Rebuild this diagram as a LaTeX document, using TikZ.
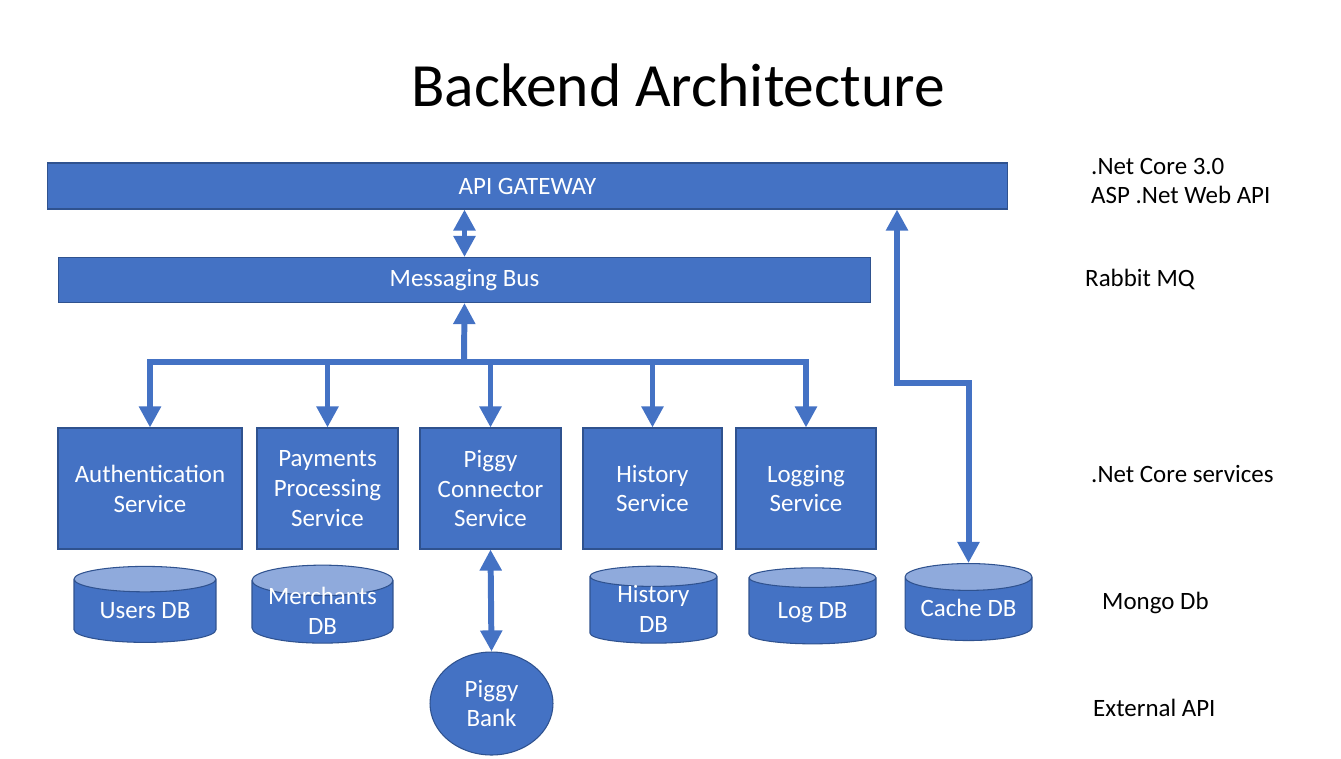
\documentclass[tikz,border=0pt]{standalone}
\usepackage{fontspec}
\setmainfont{Carlito}
\usetikzlibrary{arrows.meta,shapes.geometric}
\definecolor{BoxBlue}{HTML}{4472C4}
\definecolor{EdgeBlue}{HTML}{2F528F}
\definecolor{TopBlue}{HTML}{8FAADC}
\newcommand{\dbtext}[1]{\smash{\raisebox{-4.6pt}{\begin{tabular}{@{}c@{}}#1\end{tabular}}}}

\begin{document}
\begin{tikzpicture}[
    x=0.02cm, y=-0.02cm,
    font=\fontsize{14.2}{17}\selectfont,
    link/.style={draw=BoxBlue, line width=3.4pt},
    tip/.style={-{Triangle[length=12pt,width=12pt]}},
    twotip/.style={{Triangle[length=12pt,width=12pt]}-{Triangle[length=12pt,width=12pt]}},
    bar/.style={draw=EdgeBlue, fill=BoxBlue, line width=0.6pt, text=white,
        inner sep=0pt, align=center},
    service/.style={bar, minimum height=2.42cm},
    dbcyl/.style={cylinder, shape border rotate=90, aspect=0.28,
        draw=EdgeBlue, line width=0.6pt, cylinder uses custom fill,
        cylinder body fill=BoxBlue, cylinder end fill=TopBlue,
        text=white, inner sep=0pt},
    side/.style={anchor=west, align=left}
]
\useasboundingbox (0,0) rectangle (1341,758);

% Heading
\node[font=\fontsize{35}{42}\selectfont] (title) at (678,85) {Backend Architecture};

% Gateway and bus
\node[bar, minimum width=19.22cm, minimum height=0.92cm] (gw) at (527.5,186) {API GATEWAY};
\node[bar, minimum width=16.26cm, minimum height=0.9cm] (bus) at (464.5,280) {Messaging Bus};

% Services
\node[service, minimum width=3.68cm] (auth) at (150,488.5) {Authentication\\Service};
\node[service, minimum width=2.82cm] (pay) at (327.5,488.5) {Payments\\Processing\\Service};
\node[service, minimum width=2.82cm] (conn) at (490.5,488.5) {Piggy\\Connector\\Service};
\node[service, minimum width=2.78cm] (hist) at (652.5,488.5) {History\\Service};
\node[service, minimum width=2.8cm] (logs) at (806,488.5) {Logging\\Service};

% Databases
\node[dbcyl, minimum width=2.84cm, minimum height=1.52cm] (usersdb) at (145,611) {\dbtext{Users DB}};
\node[dbcyl, minimum width=2.82cm, minimum height=1.56cm] (merchdb) at (322.5,612) {\dbtext{Merchants\\DB}};
\node[dbcyl, minimum width=2.54cm, minimum height=1.54cm] (histdb) at (653.5,610) {\dbtext{History\\DB}};
\node[dbcyl, minimum width=2.54cm, minimum height=1.52cm] (logdb) at (812.5,611) {\dbtext{Log DB}};
\node[dbcyl, minimum width=2.54cm, minimum height=1.54cm] (cachedb) at (968.5,609) {\dbtext{Cache DB}};

% External API
\node[ellipse, draw=EdgeBlue, fill=BoxBlue, line width=0.6pt, text=white,
      inner sep=0pt, align=center, minimum width=2.46cm, minimum height=2.06cm]
    (bank) at (491.5,703.5) {Piggy\\Bank};

% Connectors
\draw[link, twotip] (bus.north) -- (bus.north |- gw.south);
\coordinate (split) at (464,362);
\draw[link, tip] (split) -- (bus.south);
\draw[link, line cap=rect] (auth.north |- split) -- (logs.north |- split);
\foreach \s in {auth,pay,conn,hist,logs}
    \draw[link, tip] (\s.north |- split) -- (\s.north);
\draw[link, twotip] (conn.south) -- (bank.north);
\coordinate (cachebend) at (897,383);
\draw[link, twotip] (gw.south -| cachebend) -- (cachebend) -| (cachedb.north);

% Technology labels
\node[side] (tnet) at (1085,181) {.Net Core 3.0\\ASP .Net Web API};
\node[side] (tmq) at (1079,279) {Rabbit MQ};
\node[side] (tsvc) at (1085,474) {.Net Core services};
\node[side] (tdb) at (1096,603) {Mongo Db};
\node[side] (text) at (1087,708) {External API};
\end{tikzpicture}
\end{document}
